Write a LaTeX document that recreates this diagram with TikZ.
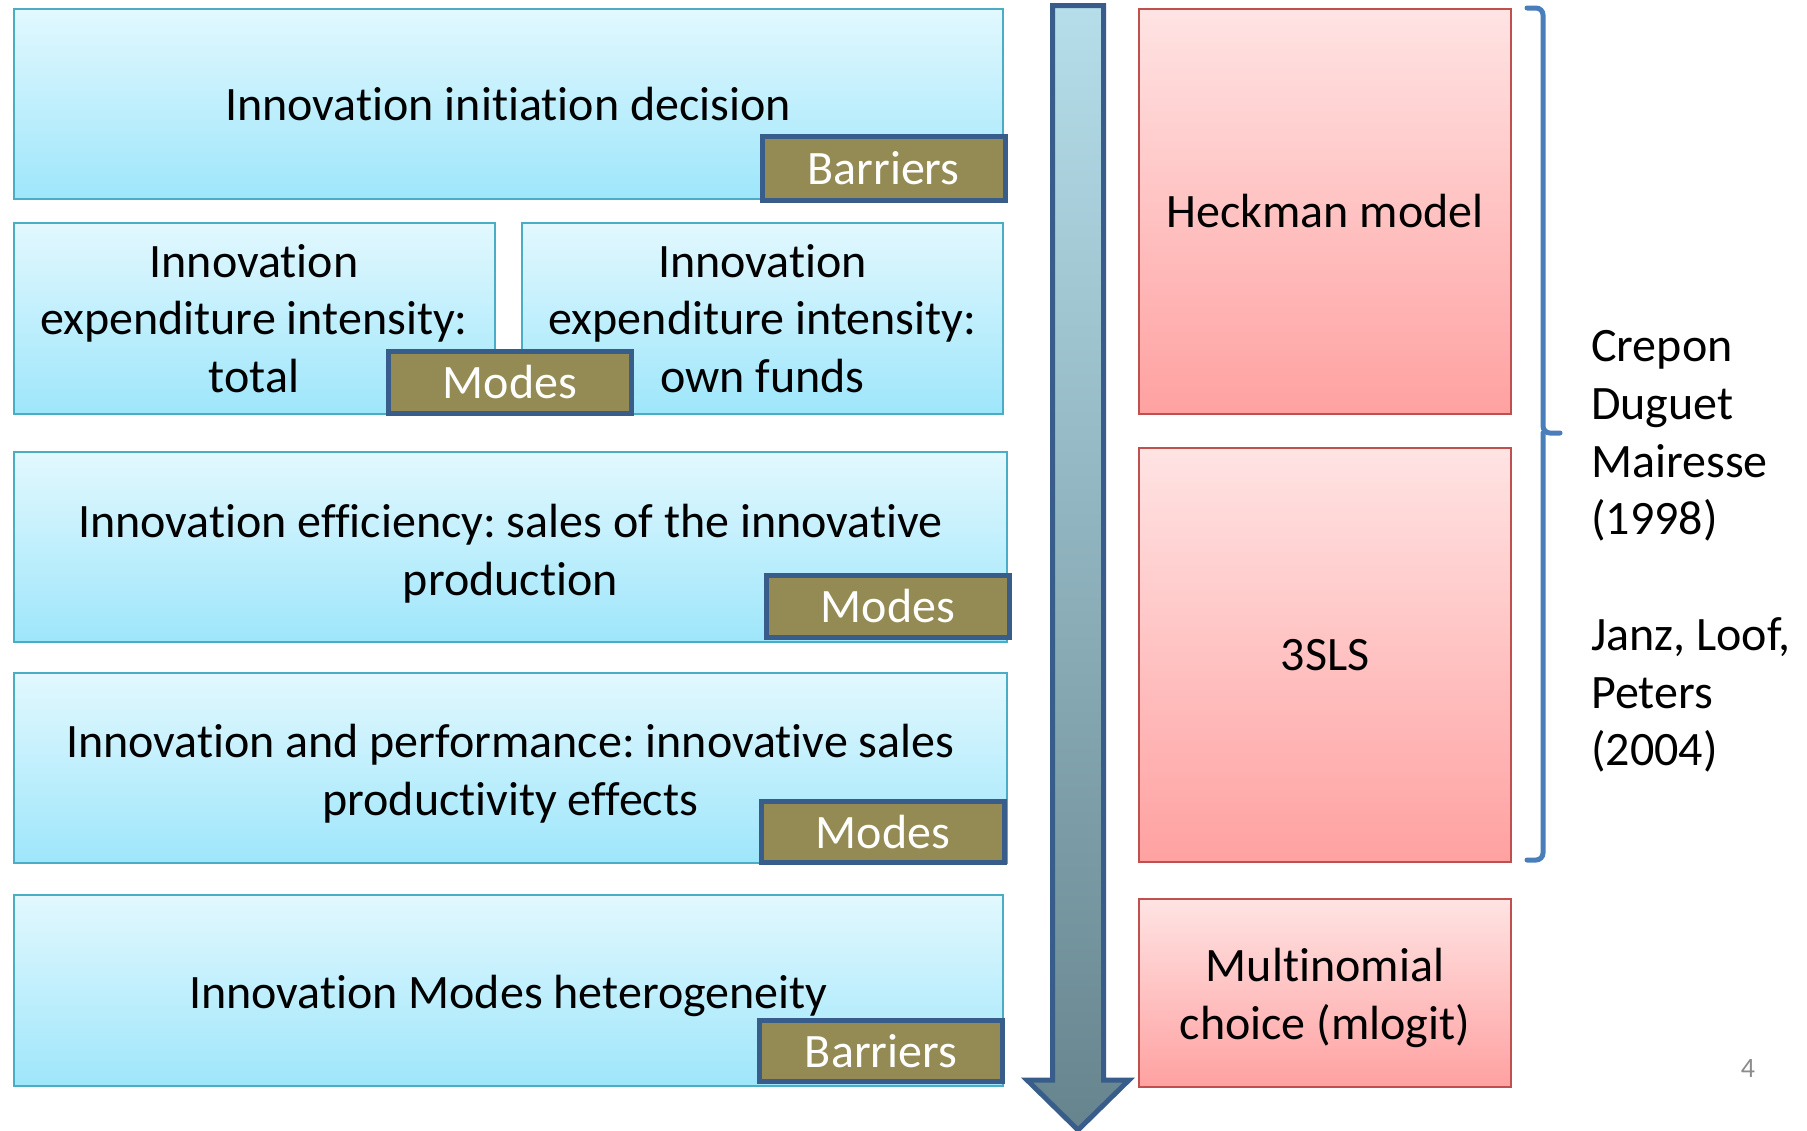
\documentclass[tikz,border=0pt]{standalone}
\usepackage{fontspec}
\setmainfont{Carlito}[Ligatures={NoCommon,NoContextual}]
\frenchspacing
\definecolor{boxtop}{HTML}{E2F8FE}
\definecolor{boxbot}{HTML}{9EE6FB}
\definecolor{boxline}{HTML}{4BACC6}
\definecolor{tagfill}{HTML}{948A54}
\definecolor{tagline}{HTML}{385D8A}
\definecolor{arrtop}{HTML}{B5DEEA}
\definecolor{arrbot}{HTML}{66848E}
\definecolor{redtop}{HTML}{FFE3E3}
\definecolor{redbot}{HTML}{FFA1A1}
\definecolor{redline}{HTML}{C0504D}
\definecolor{bracecol}{HTML}{4A7EBB}
\definecolor{pagenum}{HTML}{8C8C8C}
% lines of a box label, with extra room above them so they sit lower in the box
\newcommand{\lowlines}[2]{\raisebox{0pt}[\dimexpr\height+#1\relax][\depth]{\begin{tabular}{@{}c@{}}#2\end{tabular}}}
\tikzset{
  txt/.style={font=\fontsize{48pt}{57.6pt}\selectfont, align=center, inner sep=0pt},
  bluebox/.style={txt, draw=boxline, line width=2pt, top color=boxtop, bottom color=boxbot},
  tagbox/.style={txt, draw=tagline, line width=5pt, fill=tagfill, text=white,
    minimum width=243pt, minimum height=62pt},
  redbox/.style={txt, draw=redline, line width=2.5pt, top color=redtop, bottom color=redbot,
    minimum width=372pt},
  sidetext/.style={txt, align=left, anchor=west},
}
\begin{document}
\begin{tikzpicture}[x=1pt, y=-1pt]
\useasboundingbox[fill=white] (0,0) rectangle (1807,1130);

% stages of the model
\node[bluebox, minimum width=989.5pt, minimum height=190pt] (b1) at (508.25,104) {Innovation initiation decision};
\node[bluebox, minimum width=481pt, minimum height=191pt] (b2a) at (254,318.5) {Innovation\\expenditure intensity:\\total};
\node[bluebox, minimum width=481pt, minimum height=191pt] (b2b) at (762.5,318.5) {Innovation\\expenditure intensity:\\own funds};
\node[bluebox, minimum width=993.5pt, minimum height=190pt] (b3) at (510.25,547)
  {\lowlines{16pt}{Innovation efficiency: sales of the innovative\\production}};
\node[bluebox, minimum width=993.5pt, minimum height=190pt] (b4) at (510.25,768)
  {\lowlines{14pt}{Innovation and performance: innovative sales\\productivity effects}};
\node[bluebox, minimum width=989.5pt, minimum height=191pt] (b5) at (508.25,990.5)
  {\lowlines{12pt}{Innovation Modes heterogeneity}};

% tags on the stages
\node[tagbox, minimum height=64pt] (t1) at (883.5,168.5) {Barriers};
\node[tagbox] (t2) at (510,382.5) {Modes};
\node[tagbox] (t3) at (888,606.5) {Modes};
\node[tagbox, minimum height=61pt] (t4) at (883,832) {Modes};
\node[tagbox, minimum height=61pt] (t5) at (881,1051) {Barriers};

% downward arrow
\path[draw=tagline, line width=5pt, line join=miter, top color=arrtop, bottom color=arrbot]
  (1052.5,5.5) -- (1103.5,5.5) -- (1103.5,1080) -- (1129,1080) -- (1078,1130)
  -- (1027,1080) -- (1052.5,1080) -- cycle;

% estimation methods
\node[redbox, minimum height=405pt] (r1) at (1325,211.5) {Heckman model};
\node[redbox, minimum height=414pt] (r2) at (1325,655) {3SLS};
\node[redbox, minimum height=188pt] (r3) at (1325,993) {\lowlines{12pt}{Multinomial\\choice (mlogit)}};

% brace over the first two methods
\coordinate (bt) at (1527,8);
\coordinate (bm) at (1560,433);
\coordinate (bb) at (1527,860);
\draw[bracecol, line width=5pt, line cap=round, rounded corners=7pt]
  (bt) -- (1543,8) -- (1543,433) -- (bm);
\draw[bracecol, line width=5pt, line cap=round, rounded corners=7pt]
  (1543,433) -- (1543,860) -- (bb);

% references
\node[sidetext] (ref1) at (1591,436) {Crepon\\Duguet\\Mairesse\\(1998)};
\node[sidetext] (ref2) at (1591,695) {Janz, Loof,\\Peters\\(2004)};

% slide number
\node[txt, text=pagenum, font=\fontsize{28pt}{30pt}\selectfont] (pg) at (1748,1068) {4};
\end{tikzpicture}
\end{document}
